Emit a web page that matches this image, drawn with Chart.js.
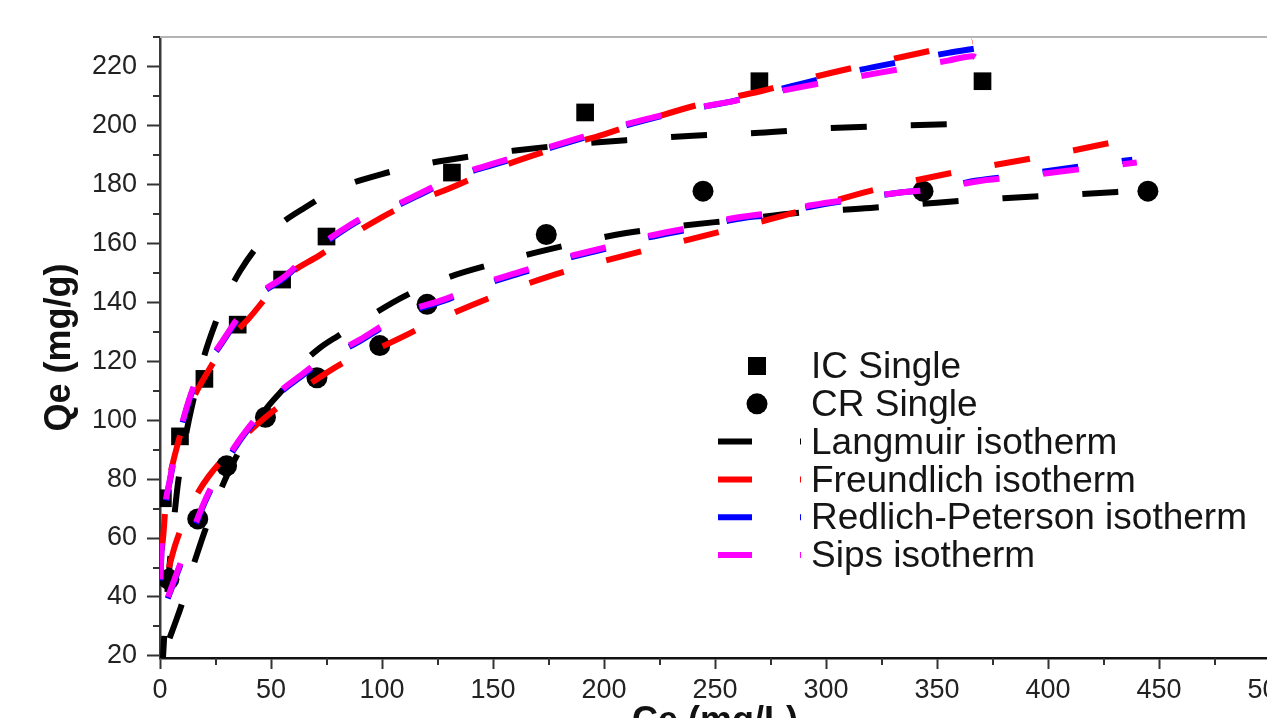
<!DOCTYPE html>
<html>
<head>
<meta charset="utf-8">
<title>Isotermas IC / CR</title>
<script src="https://cdn.jsdelivr.net/npm/chart.js@4.4.1/dist/chart.umd.min.js"></script>
<style>
    html, body { margin: 0; padding: 0; background: #fff; overflow: hidden; }
    #wrap { width: 1300px; height: 760px; }
</style>
</head>
<body>
<div id="wrap"><canvas id="myChart" width="1300" height="760"></canvas></div>
<script>
// pontos experimentais
var icCe = [1.3, 9, 20, 35, 55, 75, 131.5, 191.5, 270, 370.5];
var icQe = [73.5, 94.5, 114, 132.4, 147.7, 162.3, 184, 204.4, 215, 215];
var crCe = [4, 17, 30, 47.5, 70.7, 99, 120.3, 174, 244.6, 343.7, 445];
var crQe = [46, 66.5, 84.5, 101, 114.4, 125.3, 139.3, 163, 177.7, 177.7, 177.7];

// curvas ajustadas - IC
var icLangCe = [1, 2, 3, 4.5, 6, 8, 10, 13, 16, 20, 25, 30, 36, 45, 55, 65, 80, 100, 120, 140, 160, 185, 210, 240, 270, 300, 335, 370];
var icLangQe = [14.6, 28, 38.5, 52.5, 64, 78, 88, 100, 110, 122, 133, 142, 150.5, 160, 167, 172, 178.5, 183.5, 187, 189.5, 191.5, 193.5, 195, 196.5, 197.5, 199, 200, 200.7];
var icFreuCe = [0.8, 1.5, 3, 5, 8, 12, 16, 22, 30, 40, 55, 72, 90, 108, 130, 150, 175, 200, 220, 245, 270, 295, 320, 345, 366];
var icFreuQe = [56, 61, 76, 83, 92, 102, 109, 117, 126.5, 134.5, 147.7, 156, 164.5, 172, 178.5, 185, 191.5, 197, 202, 207.5, 211.5, 216.5, 220.9, 225, 228.5];
var icRPCe = [0.2, 0.6, 1.2, 2.5, 4.5, 7, 10, 14, 19, 26, 35, 45, 56, 68, 80, 92, 105, 120, 135, 150, 170, 190, 210, 235, 260, 285, 310, 335, 355, 368];
var icRPQe = [45.6, 54.6, 62.6, 71.6, 79.6, 89.6, 98.6, 108.6, 117.6, 124.1, 134.1, 142.6, 148.3, 156.6, 163.1, 168.6, 172.2, 177.6, 183, 186.6, 191.1, 195.6, 200, 204.8, 208.6, 213.4, 218, 221.8, 224.6, 226.2];
var icSipsCe = [0.2, 0.6, 1.2, 2.5, 4.5, 7, 10, 14, 19, 26, 35, 45, 56, 68, 80, 92, 105, 120, 135, 150, 170, 190, 210, 235, 260, 285, 310, 335, 355, 366, 370];
var icSipsQe = [46, 55, 63, 72, 80, 90, 99, 109, 118, 124.5, 134.5, 143, 148.7, 157, 163.5, 169, 172.6, 178, 183.4, 187, 191.5, 196, 200.4, 205, 208.5, 212.5, 216, 219.3, 222, 223.5, 221.5];

// curvas ajustadas - CR
var crLangCe = [4.3, 7, 10, 13, 16, 20, 25, 30, 35, 42, 48, 56, 64, 72, 80, 95, 110, 130, 150, 170, 190, 210, 230, 260, 290, 320, 350, 380, 410, 443];
var crLangQe = [26, 31.5, 38, 46, 53, 62, 72, 81, 88.5, 97.5, 104, 111, 119, 124.5, 128.5, 135.5, 142, 148.5, 153, 157, 160.5, 163.5, 165.5, 168, 170.5, 172, 173.8, 175.3, 176.5, 178];
var crFreuCe = [4, 7, 11, 16, 22, 30, 40, 50, 65, 85, 100, 125, 150, 175, 200, 240, 280, 320, 360, 400, 434];
var crFreuQe = [50, 58, 66, 74, 81, 88, 96, 102.5, 111, 120.5, 125, 134, 141.9, 148.7, 154, 161.6, 169.2, 177.8, 184.4, 189.8, 195];
var crRPCe = [3.5, 6, 10, 15, 21, 28, 35, 42, 53, 63, 73, 90, 100, 110, 128, 146, 165, 184, 200, 220, 240, 258, 277, 294, 312, 331, 350, 368, 386, 404, 422, 438];
var crRPQe = [39.5, 44.5, 52.5, 62.5, 73.5, 83.5, 92, 99, 108.5, 114.5, 120, 126.8, 131.5, 136, 140.5, 146, 150.5, 155, 158, 162, 165, 168, 170, 172.6, 174.8, 177, 178.6, 181.3, 183, 185, 186.8, 188.4];
var crSipsCe = [3.6, 6, 10, 15, 21, 28, 35, 42, 53, 63, 73, 90, 100, 110, 128, 146, 165, 184, 200, 220, 240, 258, 277, 294, 312, 331, 350, 368, 386, 404, 422, 440];
var crSipsQe = [40, 45, 53, 63, 74, 84, 92.5, 99.5, 109, 115, 120.5, 127.3, 132, 136.5, 141, 146.5, 151, 155.5, 158.5, 162.5, 165.5, 168.5, 170.5, 173, 175, 177, 178.5, 181, 182.5, 184.2, 185.8, 187.4];

// eixos
var xTicks = [0, 50, 100, 150, 200, 250, 300, 350, 400, 450, 500];
var xMinor = [25, 75, 125, 175, 225, 275, 325, 375, 425, 475];
var yTicks = [20, 40, 60, 80, 100, 120, 140, 160, 180, 200, 220];
var yMinor = [30, 50, 70, 90, 110, 130, 150, 170, 190, 210, 230];

var legendaTextos = ['IC Single', 'CR Single', 'Langmuir isotherm', 'Freundlich isotherm', 'Redlich-Peterson isotherm', 'Sips isotherm'];

var fonte = "'Liberation Sans', Arial, sans-serif";
Chart.defaults.font.family = fonte;

function pares(xs, ys) {
    var lista = [];
    for (var i = 0; i < xs.length; i++) {
        lista.push({ x: xs[i], y: ys[i] });
    }
    return lista;
}

function curva(xs, ys, cor, ordem) {
    return {
        data: pares(xs, ys),
        showLine: true,
        borderColor: cor,
        backgroundColor: cor,
        borderWidth: 6,
        borderDash: [36, 44],
        borderCapStyle: 'butt',
        cubicInterpolationMode: 'monotone',
        pointRadius: 0,
        pointHoverRadius: 0,
        order: ordem
    };
}

// marcas menores dos eixos, borda de cima e legenda dentro da area
var extras = {
    id: 'extras',
    afterDraw: function (chart) {
        var ctx = chart.ctx;
        var area = chart.chartArea;
        var sx = chart.scales.x;
        var sy = chart.scales.y;

        ctx.save();
        ctx.strokeStyle = '#b4b4b4';
        ctx.lineWidth = 2;
        ctx.beginPath();
        ctx.moveTo(area.left, area.top);
        ctx.lineTo(area.right, area.top);
        ctx.stroke();

        ctx.strokeStyle = '#333';
        ctx.lineWidth = 2;
        ctx.beginPath();
        for (var i = 0; i < yMinor.length; i++) {
            var py = Math.round(sy.getPixelForValue(yMinor[i]));
            ctx.moveTo(area.left - 7, py);
            ctx.lineTo(area.left, py);
        }
        for (var j = 0; j < xMinor.length; j++) {
            var px = Math.round(sx.getPixelForValue(xMinor[j]));
            ctx.moveTo(px, area.bottom);
            ctx.lineTo(px, area.bottom + 7);
        }
        ctx.stroke();

        // legenda
        var cores = ['#000', '#000', '#000', '#ff0000', '#0000ff', '#ff00ff'];
        var x0 = 757;
        var y0 = 366;
        var passo = 37.8;
        ctx.font = '37px ' + fonte;
        ctx.textBaseline = 'middle';
        ctx.textAlign = 'left';
        for (var k = 0; k < legendaTextos.length; k++) {
            var yy = y0 + k * passo;
            ctx.fillStyle = cores[k];
            ctx.strokeStyle = cores[k];
            if (k === 0) {
                ctx.fillRect(x0 - 9, yy - 9, 18, 18);
            } else if (k === 1) {
                ctx.beginPath();
                ctx.arc(x0, yy, 10.5, 0, Math.PI * 2);
                ctx.fill();
            } else {
                ctx.lineWidth = 6;
                ctx.setLineDash([34, 48]);
                ctx.beginPath();
                ctx.moveTo(718, yy);
                ctx.lineTo(801, yy);
                ctx.stroke();
                ctx.setLineDash([]);
            }
            ctx.fillStyle = '#151515';
            ctx.fillText(legendaTextos[k], 811, yy + 2);
        }
        ctx.restore();
    }
};

var ctx = document.getElementById('myChart');
var myChart = new Chart(ctx, {
    type: 'scatter',
    data: {
        datasets: [
            curva(icSipsCe, icSipsQe, '#ff00ff', 1),
            curva(crSipsCe, crSipsQe, '#ff00ff', 1),
            curva(icRPCe, icRPQe, '#0000ff', 2),
            curva(crRPCe, crRPQe, '#0000ff', 2),
            curva(icFreuCe, icFreuQe, '#ff0000', 3),
            curva(crFreuCe, crFreuQe, '#ff0000', 3),
            curva(icLangCe, icLangQe, '#000000', 4),
            curva(crLangCe, crLangQe, '#000000', 4),
            {
                data: pares(icCe, icQe),
                pointStyle: 'rect',
                pointRadius: 12.5,
                backgroundColor: '#000',
                borderColor: '#000',
                borderWidth: 0,
                order: 5
            },
            {
                data: pares(crCe, crQe),
                pointStyle: 'circle',
                pointRadius: 10.5,
                backgroundColor: '#000',
                borderColor: '#000',
                borderWidth: 0,
                order: 5
            }
        ]
    },
    options: {
        responsive: false,
        animation: false,
        devicePixelRatio: 1,
        layout: { padding: { top: 37, right: 30, left: 0, bottom: 0 } },
        plugins: {
            legend: { display: false },
            tooltip: { enabled: false }
        },
        scales: {
            x: {
                type: 'linear',
                min: 0,
                max: 500,
                afterBuildTicks: function (scale) {
                    scale.ticks = xTicks.map(function (v) { return { value: v }; });
                },
                afterFit: function (scale) { scale.height = 102; },
                ticks: {
                    font: { size: 27 },
                    color: '#222',
                    padding: 5,
                    maxRotation: 0,
                    autoSkip: false
                },
                grid: {
                    drawOnChartArea: false,
                    drawTicks: true,
                    tickLength: 11,
                    tickWidth: 2,
                    tickColor: '#333'
                },
                border: { display: true, color: '#111', width: 2.5 },
                title: {
                    display: true,
                    text: 'Ce (mg/L)',
                    color: '#111',
                    font: { size: 36, weight: 'bold', lineHeight: 1.2 },
                    padding: { top: 4, bottom: 16 }
                }
            },
            y: {
                type: 'linear',
                min: 19.3,
                max: 230,
                afterBuildTicks: function (scale) {
                    scale.ticks = yTicks.map(function (v) { return { value: v }; });
                },
                afterFit: function (scale) { scale.width = 160; },
                ticks: {
                    font: { size: 27 },
                    color: '#222',
                    padding: 10,
                    autoSkip: false
                },
                grid: {
                    drawOnChartArea: false,
                    drawTicks: true,
                    tickLength: 13,
                    tickWidth: 2,
                    tickColor: '#333'
                },
                border: { display: true, color: '#3a3a3a', width: 2.5 },
                title: {
                    display: true,
                    text: 'Qe (mg/g)',
                    color: '#111',
                    font: { size: 36, weight: 'bold', lineHeight: 1.2 },
                    padding: { top: 38, bottom: 0 }
                }
            }
        }
    },
    plugins: [extras]
});
</script>
</body>
</html>
